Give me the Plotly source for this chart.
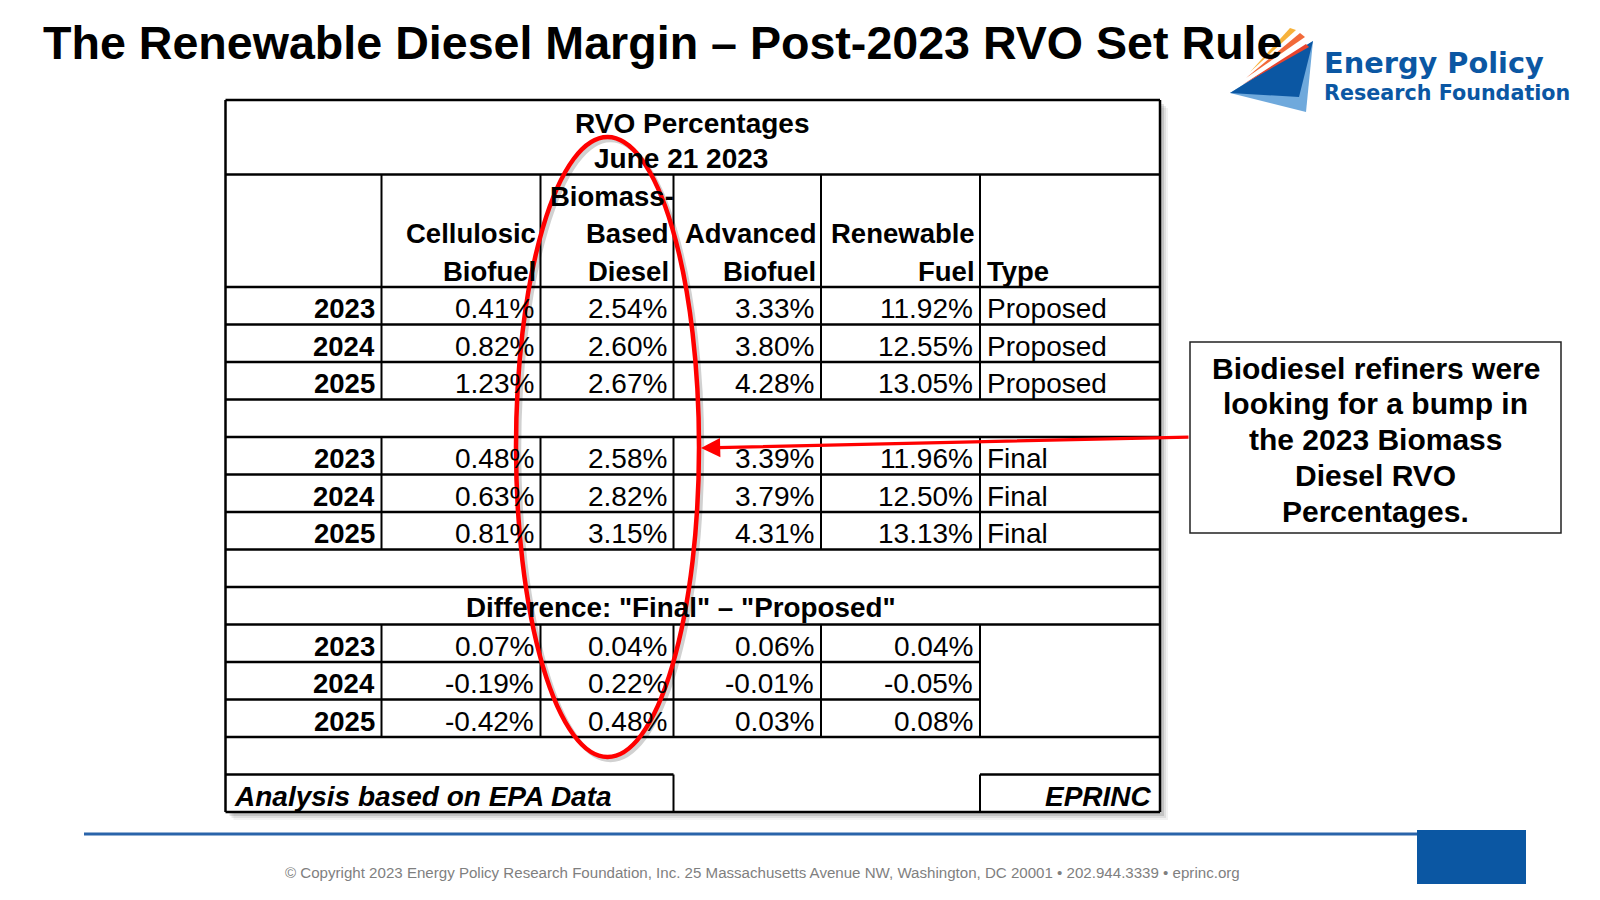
import plotly.graph_objects as go

# ---- data (RVO percentages, June 21 2023) ----
years = ["2023", "2024", "2025"]
header_lines = [["", "", ""],
                ["", "Cellulosic", "Biofuel"],
                ["Biomass-", "Based", "Diesel"],
                ["", "Advanced", "Biofuel"],
                ["", "Renewable", "Fuel"],
                ["", "", "Type"]]

cellulosic_proposed = [0.41, 0.82, 1.23]
bbd_proposed = [2.54, 2.60, 2.67]
advanced_proposed = [3.33, 3.80, 4.28]
renewable_proposed = [11.92, 12.55, 13.05]

cellulosic_final = [0.48, 0.63, 0.81]
bbd_final = [2.58, 2.82, 3.15]
advanced_final = [3.39, 3.79, 4.31]
renewable_final = [11.96, 12.50, 13.13]

cellulosic_diff = [0.07, -0.19, -0.42]
bbd_diff = [0.04, 0.22, 0.48]
advanced_diff = [0.06, -0.01, 0.03]
renewable_diff = [0.04, -0.05, 0.08]

title = "The Renewable Diesel Margin – Post-2023 RVO Set Rule"
callout = ["Biodiesel refiners were", "looking for a bump in", "the 2023 Biomass",
           "Diesel RVO", "Percentages."]
copyright_txt = ("© Copyright 2023 Energy Policy Research Foundation, Inc. 25 Massachusetts Avenue NW, "
                 "Washington, DC 20001 • 202.944.3339 • eprinc.org")

# ---- layout geometry (page pixels) ----
FONT = "Liberation Sans, Arial, sans-serif"
cols = [225.5, 381.5, 540.5, 673.5, 821, 980, 1160]
top, title_bot, head_bot, rh = 100, 174.5, 287, 37.5
rows = [head_bot + rh * i for i in range(15)]   # row edges below header
FS = 28
blue = "#0B57A3"
PAGE_MARGIN = 8   # browser body margin, figure is shifted by this

fig = go.Figure()
shapes = []
ann = []


def hline(y, x0, x1, w=2.5):
    shapes.append(dict(type="line", x0=x0, x1=x1, y0=y, y1=y, line=dict(color="black", width=w)))


def vline(x, y0, y1, w=2):
    shapes.append(dict(type="line", x0=x, x1=x, y0=y0, y1=y1, line=dict(color="black", width=w)))


def text(x, y, s, size=FS, anchor="right", color="black", fam=FONT):
    ann.append(dict(x=x, y=y, text=s, showarrow=False, xanchor=anchor, yanchor="middle",
                    font=dict(family=fam, size=size, color=color)))


# table shadow + background
for off, a in [(8, 0.05), (6, 0.08), (4, 0.12)]:
    shapes.append(dict(type="rect", x0=cols[0] + off, x1=cols[-1] + off, y0=top + off, y1=rows[-1] + off,
                       line=dict(width=0), fillcolor="rgba(0,0,0,%s)" % a, layer="below"))
shapes.append(dict(type="rect", x0=cols[0], x1=cols[-1], y0=top, y1=rows[-1],
                   line=dict(width=0), fillcolor="white", layer="below"))

# outer border and full-width rules
vline(cols[0], top, rows[-1], 2.5)
vline(cols[-1], top, rows[-1], 2.5)
for y in [top, title_bot, head_bot] + rows[1:9] + [rows[9], rows[12], rows[-1]]:
    hline(y, cols[0], cols[-1])
# header verticals
for x in cols[1:6]:
    vline(x, title_bot, head_bot)
# data block verticals
for x in cols[1:6]:
    vline(x, rows[0], rows[3])
    vline(x, rows[4], rows[7])
    vline(x, rows[9], rows[12])
hline(rows[10], cols[0], cols[5])
hline(rows[11], cols[0], cols[5])
# footer cells
hline(rows[13], cols[0], cols[3])
hline(rows[13], cols[5], cols[6])
vline(cols[3], rows[13], rows[14])
vline(cols[5], rows[13], rows[14])

# title rows
cx = (cols[0] + cols[-1]) / 2
cx_mid = (cols[1] + cols[5]) / 2
text(cx, 123, "<b>RVO Percentages</b>", anchor="center")
text(cx_mid, 158.5, "<b>June 21 2023</b>", anchor="center")
for j, lines in enumerate(header_lines):
    for k, s in enumerate(lines):
        if s:
            y = title_bot + 37.4 * (k + 0.5) + 3
            if j == 5:
                text(cols[j] + 5, y, "<b>%s</b>" % s, size=27.5, anchor="left")
            elif s.endswith("-"):
                text(cols[j + 1] + 2, y, "<b>%s</b>" % s, size=27.5)
            else:
                text(cols[j + 1] - 3, y, "<b>%s</b>" % s, size=27.5)


def block(r0, series, label):
    for i, yr in enumerate(years):
        yc = rows[r0 + i] + rh / 2 + 3
        text(cols[1] - 5, yc, "<b>%s</b>" % yr, size=27.5)
        for j, vals in enumerate(series):
            text(cols[j + 2] - 5, yc, "%.2f%%" % vals[i])
        if label:
            text(cols[5] + 5, yc, label, anchor="left")


block(0, [cellulosic_proposed, bbd_proposed, advanced_proposed, renewable_proposed], "Proposed")
block(4, [cellulosic_final, bbd_final, advanced_final, renewable_final], "Final")
block(9, [cellulosic_diff, bbd_diff, advanced_diff, renewable_diff], "")
text(cx_mid, rows[8] + rh / 2 + 2, "<b>Difference: \"Final\" – \"Proposed\"</b>",
     size=27.8, anchor="center")
text(cols[0] + 6, rows[13] + rh / 2 + 3, "<b><i>Analysis based on EPA Data</i></b>", anchor="left")
text(cols[-1] - 6, rows[13] + rh / 2 + 3, "<b><i>EPRINC</i></b>")

# red ellipse (with faint shadow) and arrow
shapes.append(dict(type="circle", x0=519, x1=702, y0=140, y1=760,
                   line=dict(color="rgba(0,0,0,0.18)", width=4.5)))
shapes.append(dict(type="circle", x0=516, x1=699, y0=137, y1=757, line=dict(color="#FF0000", width=4.5)))
ann.append(dict(x=701, y=448, ax=1190, ay=437, axref="x", ayref="y", xref="x", yref="y", text="",
                showarrow=True, arrowhead=2, arrowsize=1.2, arrowwidth=3.2, arrowcolor="#FF0000"))

# callout box
shapes.append(dict(type="rect", x0=1190, x1=1561, y0=342, y1=533, fillcolor="white",
                   line=dict(color="#222222", width=1.5)))
for k, s in enumerate(callout):
    text(1375.5, 368 + 35.9 * k, "<b>%s</b>" % s, size=30, anchor="center")

# slide title
text(41, 43, "<b>%s</b>" % title, size=46.6, anchor="left")

# logo
for pts, col in [([(1230, 93), (1306, 112), (1313, 41)], "#6FA9DC"),
                 ([(1230, 93), (1313, 41), (1299, 97)], blue),
                 ([(1250, 72), (1290, 28), (1296, 30)], "#F7B23B"),
                 ([(1246, 78), (1300, 33), (1305, 37)], "#F26A3A"),
                 ([(1242, 85), (1306, 44), (1309, 47)], "#E8442E")]:
    path = "M " + " L ".join("%s,%s" % p for p in pts) + " Z"
    shapes.append(dict(type="path", path=path, fillcolor=col, line=dict(width=0)))
text(1322, 63, "<b>Energy Policy</b>", size=28.8, anchor="left", color=blue, fam="DejaVu Sans")
text(1322, 93, "<b>Research Foundation</b>", size=20.7, anchor="left", color=blue, fam="DejaVu Sans")

# footer
shapes.append(dict(type="line", x0=84, x1=1418, y0=834, y1=834, line=dict(color="#2A64AA", width=3)))
shapes.append(dict(type="rect", x0=1417, x1=1526, y0=830, y1=884, fillcolor=blue, line=dict(width=0)))
text(762, 872, copyright_txt, size=15.1, anchor="center", color="#7F7F7F")

# the page body has an 8px margin, so the axes start at page pixel 8
fig.update_layout(
    width=1600 - PAGE_MARGIN, height=900 - PAGE_MARGIN, margin=dict(l=0, r=0, t=0, b=0),
    paper_bgcolor="white", plot_bgcolor="white",
    xaxis=dict(range=[PAGE_MARGIN, 1600], visible=False, fixedrange=True),
    yaxis=dict(range=[900, PAGE_MARGIN], visible=False, fixedrange=True),
    shapes=shapes, annotations=ann, showlegend=False,
)
fig.write_html("out.html")
